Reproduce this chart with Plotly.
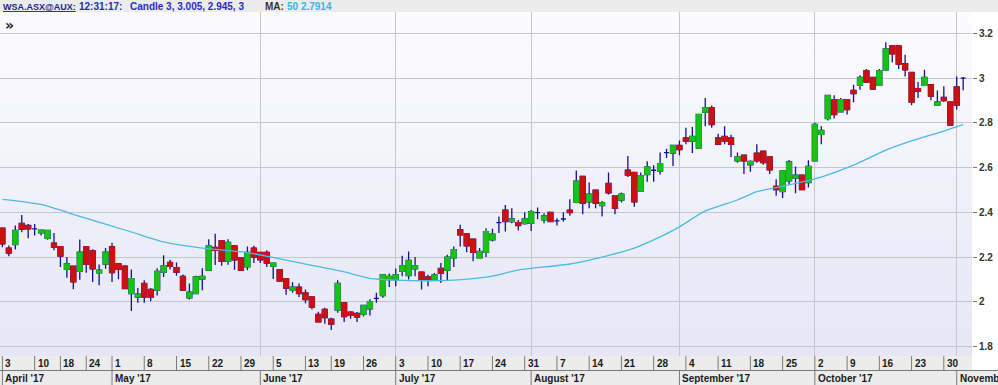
import pandas as pd
import plotly.graph_objects as go

# ---------------- data ----------------
START = "2017-04-03"
END = "2017-11-02"
HOLIDAYS = ["2017-04-14", "2017-04-17", "2017-04-25", "2017-06-12"]

OPEN = [2.329, 2.240, 2.256, 2.350, 2.341, 2.326, 2.308, 2.284, 2.262, 2.247,
        2.145, 2.159, 2.136, 2.247, 2.228, 2.129, 2.169, 2.246, 2.170, 2.159,
        2.037, 2.021, 2.082, 2.055, 2.052, 2.132, 2.176, 2.153, 2.114, 2.018,
        2.037, 2.102, 2.141, 2.243, 2.273, 2.181, 2.250, 2.196, 2.156, 2.240,
        2.221, 2.221, 2.159, 2.144, 2.104, 2.052, 2.065, 2.040, 2.022, 1.944,
        1.966, 1.922, 1.963, 1.996, 1.954, 1.948, 1.944, 1.969, 2.015, 2.028,
        2.099, 2.099, 2.136, 2.117, 2.147, 2.133, 2.111, 2.099, 2.149, 2.141,
        2.196, 2.322, 2.304, 2.280, 2.196, 2.221, 2.277, 2.354, 2.410, 2.359,
        2.354, 2.350, 2.351, 2.399, 2.366, 2.400, 2.362, 2.370, 2.410, 2.444,
        2.561, 2.447, 2.499, 2.430, 2.529, 2.473, 2.455, 2.588, 2.578, 2.495,
        2.569, 2.588, 2.584, 2.667, 2.665, 2.699, 2.732, 2.718, 2.687, 2.847,
        2.867, 2.732, 2.739, 2.732, 2.630, 2.655, 2.612, 2.664, 2.673, 2.648,
        2.516, 2.493, 2.541, 2.553, 2.566, 2.533, 2.630, 2.748, 2.819, 2.904,
        2.849, 2.904, 2.945, 2.967, 3.033, 3.003, 2.967, 3.037, 3.144, 3.144,
        3.064, 3.025, 2.953, 2.967, 2.970, 2.879, 2.914, 2.893, 2.960, 3.000]
HIGH = [2.332, 2.252, 2.341, 2.388, 2.348, 2.348, 2.320, 2.322, 2.308, 2.247,
        2.200, 2.159, 2.279, 2.247, 2.235, 2.167, 2.240, 2.264, 2.172, 2.163,
        2.144, 2.062, 2.096, 2.062, 2.150, 2.208, 2.188, 2.176, 2.122, 2.082,
        2.117, 2.150, 2.280, 2.304, 2.273, 2.280, 2.250, 2.196, 2.247, 2.250,
        2.221, 2.230, 2.173, 2.144, 2.104, 2.087, 2.082, 2.055, 2.022, 1.956,
        1.973, 1.929, 2.096, 1.996, 1.959, 1.954, 1.984, 2.011, 2.040, 2.121,
        2.126, 2.149, 2.206, 2.225, 2.200, 2.133, 2.121, 2.129, 2.173, 2.210,
        2.247, 2.344, 2.304, 2.280, 2.240, 2.329, 2.326, 2.381, 2.433, 2.418,
        2.366, 2.400, 2.410, 2.421, 2.396, 2.400, 2.373, 2.400, 2.458, 2.587,
        2.561, 2.533, 2.499, 2.450, 2.578, 2.473, 2.489, 2.652, 2.578, 2.578,
        2.628, 2.610, 2.667, 2.684, 2.699, 2.721, 2.778, 2.781, 2.837, 2.911,
        2.877, 2.751, 2.785, 2.747, 2.667, 2.655, 2.633, 2.704, 2.673, 2.648,
        2.548, 2.585, 2.634, 2.605, 2.566, 2.633, 2.800, 2.785, 2.922, 2.923,
        2.911, 2.904, 2.970, 3.012, 3.041, 3.003, 3.041, 3.160, 3.144, 3.144,
        3.104, 3.025, 2.982, 3.037, 2.970, 2.944, 2.963, 2.893, 3.007, 3.005]
LOW = [2.244, 2.204, 2.234, 2.311, 2.284, 2.296, 2.296, 2.277, 2.230, 2.156,
       2.107, 2.056, 2.099, 2.130, 2.089, 2.074, 2.148, 2.089, 2.101, 2.056,
       1.959, 1.996, 1.996, 2.003, 2.028, 2.111, 2.144, 2.117, 2.048, 2.010,
       2.037, 2.052, 2.141, 2.165, 2.161, 2.166, 2.143, 2.138, 2.141, 2.173,
       2.173, 2.156, 2.102, 2.092, 2.032, 2.040, 2.022, 1.993, 1.966, 1.910,
       1.902, 1.874, 1.951, 1.910, 1.924, 1.910, 1.934, 1.939, 1.996, 2.018,
       2.066, 2.069, 2.114, 2.100, 2.114, 2.055, 2.069, 2.096, 2.084, 2.096,
       2.156, 2.247, 2.221, 2.181, 2.196, 2.200, 2.270, 2.307, 2.314, 2.351,
       2.319, 2.344, 2.317, 2.369, 2.351, 2.356, 2.341, 2.359, 2.385, 2.440,
       2.391, 2.418, 2.418, 2.381, 2.480, 2.391, 2.444, 2.558, 2.425, 2.495,
       2.536, 2.536, 2.569, 2.643, 2.607, 2.655, 2.704, 2.665, 2.687, 2.785,
       2.778, 2.704, 2.704, 2.647, 2.622, 2.571, 2.581, 2.622, 2.612, 2.571,
       2.474, 2.464, 2.523, 2.485, 2.501, 2.511, 2.630, 2.704, 2.810, 2.819,
       2.849, 2.837, 2.892, 2.948, 2.978, 2.948, 2.967, 3.033, 3.070, 3.040,
       3.007, 2.879, 2.911, 2.967, 2.901, 2.879, 2.893, 2.790, 2.859, 2.945]
CLOSE = [2.259, 2.218, 2.319, 2.324, 2.326, 2.326, 2.320, 2.319, 2.244, 2.204,
         2.170, 2.089, 2.222, 2.167, 2.147, 2.141, 2.222, 2.130, 2.145, 2.059,
         2.104, 2.034, 2.021, 2.021, 2.136, 2.161, 2.158, 2.132, 2.052, 2.043,
         2.111, 2.114, 2.250, 2.230, 2.181, 2.265, 2.187, 2.141, 2.221, 2.200,
         2.188, 2.173, 2.173, 2.092, 2.061, 2.065, 2.037, 2.010, 1.976, 1.910,
         1.929, 1.900, 2.082, 1.934, 1.939, 1.932, 1.984, 2.001, 2.015, 2.121,
         2.114, 2.121, 2.161, 2.185, 2.161, 2.099, 2.096, 2.120, 2.127, 2.200,
         2.233, 2.299, 2.250, 2.221, 2.225, 2.314, 2.302, 2.354, 2.359, 2.370,
         2.341, 2.370, 2.403, 2.399, 2.384, 2.359, 2.362, 2.370, 2.399, 2.539,
         2.440, 2.481, 2.440, 2.443, 2.487, 2.418, 2.481, 2.566, 2.447, 2.563,
         2.603, 2.588, 2.618, 2.667, 2.699, 2.680, 2.718, 2.739, 2.837, 2.867,
         2.792, 2.704, 2.718, 2.704, 2.648, 2.630, 2.627, 2.630, 2.622, 2.590,
         2.501, 2.585, 2.625, 2.566, 2.501, 2.605, 2.793, 2.766, 2.922, 2.837,
         2.904, 2.859, 2.930, 3.003, 2.982, 2.951, 3.033, 3.130, 3.108, 3.062,
         3.037, 2.892, 2.941, 3.003, 2.919, 2.893, 2.899, 2.790, 2.879, 3.000]

# 50-period moving average (candle index, value)
MA_IDX = [0, 6, 12, 20, 25, 31, 38, 43, 48, 53, 57, 61, 66, 70, 76, 80, 88,
          93, 98, 102, 105, 109, 114, 117, 120, 126, 132, 137, 141, 146, 149]
MA_VAL = [2.458, 2.435, 2.382, 2.312, 2.268, 2.240, 2.220, 2.192, 2.163, 2.134,
          2.105, 2.097, 2.094, 2.097, 2.115, 2.142, 2.169, 2.200, 2.240, 2.290,
          2.335, 2.406, 2.455, 2.492, 2.510, 2.549, 2.611, 2.678, 2.719, 2.763,
          2.7914]

Y_TICKS = [1.8, 2.0, 2.2, 2.4, 2.6, 2.8, 3.0, 3.2]
HEADER_SYMBOL = "WSA.ASX@AUX:"
HEADER_TIME = "12:31:17:"
MA_PERIOD = 50

# ---------------- derived ----------------
dates = [d for d in pd.bdate_range(START, END) if d.strftime("%Y-%m-%d") not in HOLIDAYS]
n = len(dates)
x = list(range(n))

week_idx = [i for i in x if i == 0 or dates[i].isocalendar()[1] != dates[i - 1].isocalendar()[1]]
month_idx = [i for i in x if i == 0 or dates[i].month != dates[i - 1].month]
grid_idx = month_idx[2:]

UP = "#16c316"
DN = "#cc1111"
WICK = "#12128c"
MA_COLOR = "#48bce6"
FONT = "Liberation Sans"

# pixel helpers for paper coords (plot area: x 0..972, y 12..356)
PW, PT, PB = 972.0, 12.0, 356.0
PH = PB - PT


def px(v):
    return v / PW


def py(v):
    return (PB - v) / PH


fig = go.Figure()

# wicks (and doji ticks) -- full OHLC
fig.add_trace(go.Candlestick(
    x=x, open=OPEN, high=HIGH, low=LOW, close=CLOSE,
    increasing=dict(line=dict(color=WICK, width=1.3), fillcolor=WICK),
    decreasing=dict(line=dict(color=WICK, width=1.3), fillcolor=WICK),
    whiskerwidth=0, hoverinfo="skip", showlegend=False))

# bodies
bi = [i for i in x if OPEN[i] != CLOSE[i]]
fig.add_trace(go.Candlestick(
    x=bi,
    open=[OPEN[i] for i in bi],
    high=[max(OPEN[i], CLOSE[i]) for i in bi],
    low=[min(OPEN[i], CLOSE[i]) for i in bi],
    close=[CLOSE[i] for i in bi],
    increasing=dict(line=dict(color=UP, width=1), fillcolor=UP),
    decreasing=dict(line=dict(color=DN, width=1), fillcolor=DN),
    whiskerwidth=0, hoverinfo="skip", showlegend=False))

# moving average
fig.add_trace(go.Scatter(
    x=MA_IDX, y=MA_VAL, mode="lines",
    line=dict(color=MA_COLOR, width=1.3, shape="spline", smoothing=0.6),
    hoverinfo="skip", showlegend=False))

shapes = []
# gradient plot background
NB = 30
top_c = (252, 252, 255)
bot_c = (230, 230, 246)
for k in range(NB):
    t = k / (NB - 1)
    c = tuple(round(top_c[j] + (bot_c[j] - top_c[j]) * t) for j in range(3))
    shapes.append(dict(type="rect", xref="paper", yref="paper", x0=0, x1=1,
                       y0=1 - (k + 1) / NB, y1=1 - k / NB, layer="below",
                       fillcolor="rgb(%d,%d,%d)" % c, line=dict(width=0)))

# header band
shapes.append(dict(type="rect", xref="paper", yref="paper", x0=0, x1=px(998),
                   y0=py(12), y1=py(0), fillcolor="#ececec", line=dict(width=0)))

# bottom axis rows
r1 = py(370.5)
r2 = py(385.5)
shapes.append(dict(type="rect", xref="paper", yref="paper", x0=0, x1=1,
                   y0=r1, y1=0, fillcolor="#ececec", line=dict(width=0)))
shapes.append(dict(type="rect", xref="paper", yref="paper", x0=0, x1=px(998),
                   y0=r2, y1=r1, fillcolor="#ececec", line=dict(width=0)))
shapes.append(dict(type="line", xref="paper", yref="paper", x0=0, x1=px(998),
                   y0=r1, y1=r1, line=dict(color="#7a7a7a", width=1)))
for i in week_idx:
    shapes.append(dict(type="line", xref="x", yref="paper", x0=i, x1=i,
                       y0=0, y1=r1, line=dict(color="#7a7a7a", width=1)))
for i in month_idx:
    shapes.append(dict(type="line", xref="x", yref="paper", x0=i, x1=i,
                       y0=r1, y1=r2, line=dict(color="#7a7a7a", width=1)))

ann = []
for i in week_idx:
    ann.append(dict(x=i, y=(0 + r1) / 2, xref="x", yref="paper", xanchor="left",
                    yanchor="middle", xshift=1, showarrow=False,
                    text="<b>%d</b>" % dates[i].day,
                    font=dict(family=FONT, size=10, color="#1a1a1a")))
for i in month_idx:
    ann.append(dict(x=i, y=(r1 + r2) / 2, xref="x", yref="paper", xanchor="left",
                    yanchor="middle", xshift=1, showarrow=False,
                    text="<b>%s '%s</b>" % (dates[i].strftime("%B"), dates[i].strftime("%y")),
                    font=dict(family=FONT, size=10, color="#1a1a1a")))

# header texts
hy = py(6.5)
last = n - 1
candle_txt = "Candle %g, %g, %g, %g" % (OPEN[last], HIGH[last], LOW[last], CLOSE[last])
ann += [
    dict(x=px(1), y=hy, xref="paper", yref="paper", xanchor="left", yanchor="middle",
         showarrow=False, text="<b><u>%s</u></b>" % HEADER_SYMBOL,
         font=dict(family=FONT, size=9, color="#1d1d8f")),
    dict(x=px(77), y=hy, xref="paper", yref="paper", xanchor="left", yanchor="middle",
         showarrow=False, text="<b>%s</b>" % HEADER_TIME,
         font=dict(family=FONT, size=10, color="#2b2bb0")),
    dict(x=px(128), y=hy, xref="paper", yref="paper", xanchor="left", yanchor="middle",
         showarrow=False, text="<b>%s</b>" % candle_txt,
         font=dict(family=FONT, size=10, color="#2b2bc4")),
    dict(x=px(263), y=hy, xref="paper", yref="paper", xanchor="left", yanchor="middle",
         showarrow=False, text="<b>MA:</b>",
         font=dict(family=FONT, size=10, color="#333333")),
    dict(x=px(285), y=hy, xref="paper", yref="paper", xanchor="left", yanchor="middle",
         showarrow=False, text="<b>%d %s</b>" % (MA_PERIOD, MA_VAL[-1]),
         font=dict(family=FONT, size=10, color="#3db4e4")),
    dict(x=px(3), y=py(25), xref="paper", yref="paper", xanchor="left", yanchor="middle",
         showarrow=False, text="<b>»</b>",
         font=dict(family="DejaVu Sans", size=14, color="#222222")),
]

fig.update_layout(
    width=998, height=385,
    margin=dict(l=0, r=26, t=12, b=29, pad=0),
    paper_bgcolor="white", plot_bgcolor="#f1f1fa",
    showlegend=False,
    boxgap=0.22, boxgroupgap=0.0,
    shapes=shapes, annotations=ann,
    xaxis=dict(range=[-0.372, 150.37], showticklabels=False, tickmode="array",
               tickvals=grid_idx, showgrid=True, gridcolor="#c6c6cc", gridwidth=1,
               zeroline=False, showline=False, ticks="", rangeslider=dict(visible=False),
               fixedrange=True),
    yaxis=dict(side="right", range=[1.7578, 3.2952], tickmode="array",
               tickvals=Y_TICKS, ticktext=["%g" % v for v in Y_TICKS],
               showgrid=True, gridcolor="#c6c6cc", gridwidth=1, zeroline=False,
               showline=False, ticks="outside", ticklen=4, tickcolor="#777777",
               tickfont=dict(family=FONT, size=10, color="#333333", weight="bold"),
               fixedrange=True),
)

fig.write_html("out.html",
               config={"displayModeBar": False, "staticPlot": True},
               post_script="document.body.style.margin='0';document.body.style.overflow='hidden';")
